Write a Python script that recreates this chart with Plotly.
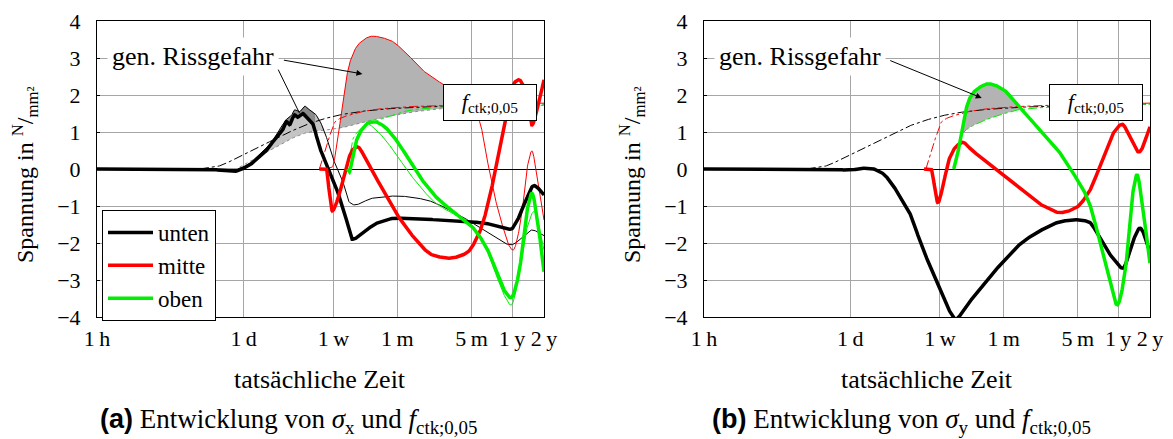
import numpy as np
import plotly.graph_objects as go

SERIF = "Liberation Serif"
SANS = "Liberation Sans"
W, H = 1173, 439

# ---- time axis (hours; 1 m = 4 weeks, 1 y = 12 m) ----
tick_hours = [1, 24, 168, 672, 3360, 8064, 16128]
tick_text = ["1\u2009h", "1\u2009d", "1\u2009w", "1\u2009m", "5\u2009m", "1\u2009y", "2\u2009y"]
t_end = 16128

# ---- (a) sigma_x ----
t_sx_unten = [1, 9.3, 14.3, 18.9, 25.6, 33.9, 39.5, 49.0, 55.8, 60.8, 64.9, 72.3, 77.1, 85.9, 93.7,
              106.8, 124, 154, 191, 238, 253, 315, 426, 656, 1151, 2400, 4210, 6490, 7886, 8600,
              9370, 10910, 12970, 16128]
sx_unten = [0, 0, -0.03, -0.07, 0.06, 0.33, 0.51, 0.87, 1.05, 1.28, 1.2, 1.46, 1.4, 1.5, 1.4,
            1.23, 0.6, -0.03, -0.75, -1.65, -1.9, -1.74, -1.47, -1.33, -1.35, -1.42, -1.45, -1.59, -1.63, -1.5,
            -1.3, -0.84, -0.45, -0.7]

t_sx_unten_b = [1, 9.3, 14.3, 18.9, 25.6, 33.9, 42.1, 49.0, 55.8, 62.1, 67.8, 72.3, 80.5, 89.8, 100,
                111.5, 124, 144, 164, 191, 204, 238, 265, 391, 656, 1151, 2400, 4898, 7886, 10000,
                12420, 16128]
sx_unten_b = [0, 0, 0, -0.02, 0.1, 0.4, 0.66, 0.92, 1.2, 1.37, 1.45, 1.6, 1.55, 1.7, 1.6,
              1.51, 1.32, 0.87, 0.33, -0.1, -0.3, -0.9, -0.97, -0.79, -0.73, -0.81, -1.2, -1.74, -2.05, -1.86,
              -1.65, -1.8]

t_sx_mitte = [124, 144, 154, 164, 183, 222, 253, 282, 343, 454, 656, 1011, 1429, 2064, 2980, 3948,
              4898, 6084, 7228, 8410, 9370, 10910, 12420, 13830, 16128]
sx_mitte = [0, 0, -0.65, -1.13, -0.85, 0.06, 0.51, 0.6, 0.24, -0.39, -1.2, -1.92, -2.32, -2.41, -2.28, -1.74,
            -0.84, 0.51, 1.59, 2.32, 2.41, 2.05, 1.19, 1.59, 2.41]

t_sx_mitte_b = [144, 164, 179, 204, 238, 295, 391, 564, 815, 1151, 1557, 2560, 3948, 4898, 6084,
                8230, 9790, 11140, 12420, 13530, 16128]
sx_mitte_b = [0, 0.05, 0.55, 1.7, 2.85, 3.4, 3.59, 3.49, 3.13, 2.68, 2.41, 2.0, 1.32, 0.0, -1.2,
              -2.19, -1.38, 0.0, 0.49, 0.0, -1.38]

t_sx_oben = [227, 238, 248, 265, 308, 366, 408, 484, 656, 869, 1151, 1663, 2400, 3394, 4590, 5702,
             6776, 7886, 9370, 10910, 12420, 13830, 16128]
sx_oben = [0, -0.08, 0.2, 0.6, 1.05, 1.26, 1.28, 1.19, 0.78, 0.24, -0.3, -0.84, -1.2, -1.56, -2.1, -2.73,
           -3.27, -3.48, -2.82, -1.29, -0.66, -1.29, -2.78]

t_sx_oben_b = [227, 238, 253, 282, 321, 350, 408, 601, 815, 1079, 1557, 2400, 3178, 4590, 5702,
               6776, 7886, 9370, 11140, 12970, 16128]
sx_oben_b = [0, -0.05, 0.4, 0.9, 1.15, 1.22, 1.1, 0.55, 0.0, -0.45, -0.93, -1.25, -1.43, -2.15, -2.85,
             -3.4, -3.68, -2.9, -1.6, -1.15, -2.19]

# ---- tensile strength f_ctk;0,05 of the three layers ----
t_fctk_unten = [9.3, 12.8, 22.0, 31.8, 45.0, 64.9, 91.7, 124, 191, 295, 564, 1774, 16128]
fctk_unten = [0, 0.05, 0.33, 0.55, 0.78, 1.0, 1.19, 1.32, 1.46, 1.55, 1.63, 1.70, 1.76]

t_fctk_mitte = [124, 138, 154, 175, 238, 391, 700, 1774, 16128]
fctk_mitte = [0, 0.4, 0.87, 1.28, 1.46, 1.6, 1.67, 1.72, 1.78]

t_fctk_oben = [227, 243, 260, 295, 391, 601, 927, 1774, 16128]
fctk_oben = [0, 0.5, 0.85, 1.05, 1.25, 1.45, 1.6, 1.67, 1.76]

# lower boundary of the crack-risk areas in (a)
t_fctk_b = [22.0, 29.2, 42.1, 64.9, 100, 191, 295, 454, 700, 1774, 16128]
fctk_b = [0.05, 0.24, 0.5, 0.8, 1.0, 1.1, 1.25, 1.36, 1.48, 1.63, 1.72]

# ---- (b) sigma_y ----
t_sy_unten = [1, 8.0, 18.9, 24, 31.1, 36.2, 48.0, 55.8, 69.2, 85.9, 114, 154, 191, 238, 295, 417,
              642, 989, 1524, 2350, 3178, 4210, 5575, 6925, 8980, 10670, 12970, 16128]
sy_unten = [0, 0, -0.02, -0.03, 0.02, 0.02, -0.11, -0.3, -0.7, -1.15, -2.1, -3.0, -3.63, -4.05, -3.72, -3.18,
            -2.55, -2.0, -1.65, -1.42, -1.37, -1.42, -1.92, -2.35, -2.68, -2.1, -1.6, -2.25]

t_sy_mitte = [119, 138, 161, 175, 204, 238, 276, 336, 484, 700, 989, 1524, 2300, 3178, 4210, 5575,
              7228, 8790, 10670, 12690, 16128]
sy_mitte = [0, 0, -0.91, -0.6, 0.24, 0.6, 0.72, 0.51, 0.15, -0.21, -0.57, -0.97, -1.18, -1.06, -0.66, 0.15,
            0.96, 1.21, 0.78, 0.46, 1.14]

t_sy_oben = [227, 243, 271, 315, 366, 484, 642, 927, 1429, 2064, 2915, 4210, 5575, 6776, 7886, 9370,
             10670, 12150, 13830, 16128]
sy_oben = [0, 0.3, 1.05, 1.86, 2.13, 2.3, 2.18, 1.7, 1.1, 0.6, -0.03, -0.84, -2.1, -3.08, -3.67, -2.82,
           -1.02, -0.16, -1.1, -2.55]

# arrow targets of the "gen. Rissgefahr" callouts (hours, N/mm²)
arrow_a1 = (315, 2.57)
arrow_a2 = (80.5, 1.51)
arrow_b = (417, 1.92)

BLACK, RED, GREEN = "#000000", "#ff0000", "#00ee00"
FILL, FILL_LIGHT, FILL_DARK = "#b3b3b3", "#c4c4c4", "#8a8a8a"


def pchip(x, y, xn):
    x = np.asarray(x, float)
    y = np.asarray(y, float)
    h = np.diff(x)
    d = np.diff(y) / h
    m = np.zeros_like(y)
    m[0], m[-1] = d[0], d[-1]
    for k in range(1, len(x) - 1):
        if d[k - 1] * d[k] > 0:
            w1 = 2 * h[k] + h[k - 1]
            w2 = h[k] + 2 * h[k - 1]
            m[k] = (w1 + w2) / (w1 / d[k - 1] + w2 / d[k])
    idx = np.clip(np.searchsorted(x, xn) - 1, 0, len(x) - 2)
    hk = h[idx]
    s = (xn - x[idx]) / hk
    h00 = 2 * s**3 - 3 * s**2 + 1
    h10 = s**3 - 2 * s**2 + s
    h01 = -2 * s**3 + 3 * s**2
    h11 = s**3 - s**2
    return h00 * y[idx] + h10 * hk * m[idx] + h01 * y[idx + 1] + h11 * hk * m[idx + 1]


def on_grid(t, v, lo, hi, n=700):
    g = np.linspace(lo, hi, n)
    return g, pchip(np.log10(t), v, g)


def curve(t, v, n=700):
    lt = np.log10(t)
    g, y = on_grid(t, v, lt[0], lt[-1], n)
    return 10**g, y


fig = go.Figure()


def add_line(t, v, color, width, axis, dash="solid", name=None, legend=False):
    x, y = curve(t, v)
    fig.add_trace(go.Scatter(x=x, y=y, mode="lines", name=name, showlegend=legend,
                             line=dict(color=color, width=width, dash=dash),
                             xaxis=axis[0], yaxis=axis[1], hoverinfo="skip"))


def add_fill(g, lower, upper, color, axis):
    fig.add_trace(go.Scatter(x=10**g, y=lower, mode="lines", line=dict(width=0, color=color),
                             showlegend=False, xaxis=axis[0], yaxis=axis[1], hoverinfo="skip"))
    fig.add_trace(go.Scatter(x=10**g, y=upper, mode="lines", line=dict(width=0, color=color),
                             fill="tonexty", fillcolor=color, showlegend=False,
                             xaxis=axis[0], yaxis=axis[1], hoverinfo="skip"))


def add_band(lower, upper_list, color, axis):
    tl, vl = lower
    lo_b = max([np.log10(tl[0])] + [np.log10(u[0][0]) for u in upper_list])
    hi_b = min([np.log10(tl[-1])] + [np.log10(u[0][-1]) for u in upper_list])
    g, ylo = on_grid(tl, vl, lo_b, hi_b)
    ups = [on_grid(tu, vu, lo_b, hi_b)[1] for tu, vu in upper_list]
    add_fill(g, ylo, np.maximum.reduce([ylo] + ups), color, axis)


A = ("x", "y")
B = ("x2", "y2")

# ---------- panel (a) ----------
add_band((t_fctk_b, fctk_b), [(t_sx_unten_b, sx_unten_b), (t_sx_unten, sx_unten)], FILL_LIGHT, A)

# darker band between the two "unten" curves where both exceed the strength
g0, g1 = np.log10(t_fctk_b[0]), np.log10(400)
g_, thin_ = on_grid(t_sx_unten_b, sx_unten_b, g0, g1)
_, thick_ = on_grid(t_sx_unten, sx_unten, g0, g1)
_, lim_ = on_grid(t_fctk_b, fctk_b, g0, g1)
add_fill(g_, thick_, np.where((thin_ > thick_) & (thick_ > lim_), thin_, thick_), FILL_DARK, A)

add_band((t_fctk_b, fctk_b), [(t_sx_mitte_b, sx_mitte_b)], FILL, A)

add_line(t_fctk_b, fctk_b, "#8c8c8c", 1, A, dash="dot")
add_line(t_fctk_unten, fctk_unten, BLACK, 1, A, dash="dashdot")
add_line(t_fctk_mitte, fctk_mitte, RED, 1, A, dash="dashdot")
add_line(t_fctk_oben, fctk_oben, GREEN, 1, A, dash="dashdot")

add_line(t_sx_unten_b, sx_unten_b, BLACK, 1, A)
add_line(t_sx_mitte_b, sx_mitte_b, RED, 1, A)
add_line(t_sx_oben_b, sx_oben_b, GREEN, 1, A)

add_line(t_sx_unten, sx_unten, BLACK, 3.5, A, name="unten", legend=True)
add_line(t_sx_mitte, sx_mitte, RED, 3.5, A, name="mitte", legend=True)
add_line(t_sx_oben, sx_oben, GREEN, 3.5, A, name="oben", legend=True)

# ---------- panel (b) ----------
add_band((t_fctk_oben, fctk_oben), [(t_sy_oben, sy_oben)], FILL, B)

add_line(t_fctk_unten, fctk_unten, BLACK, 1, B, dash="dashdot")
add_line(t_fctk_mitte, fctk_mitte, RED, 1, B, dash="dashdot")
add_line(t_fctk_oben, fctk_oben, GREEN, 1, B, dash="dashdot")

add_line(t_sy_unten, sy_unten, BLACK, 3.5, B)
add_line(t_sy_mitte, sy_mitte, RED, 3.5, B)
add_line(t_sy_oben, sy_oben, GREEN, 3.5, B)

# ---------- axes ----------
ydom = [1 - 317 / H, 1 - 21 / H]
TICK = dict(family=SERIF, size=22, color="black")
xcommon = dict(type="log", range=[0, np.log10(t_end)], tickvals=tick_hours, ticktext=tick_text,
               showgrid=True, gridcolor="#a6a6a6", gridwidth=1, showline=True, linecolor="black",
               linewidth=1, mirror=True, ticks="", zeroline=False, automargin=False,
               ticklabelstandoff=2, tickfont=TICK)
ycommon = dict(range=[-4, 4], dtick=1, showgrid=True, gridcolor="#a6a6a6", gridwidth=1,
               showline=True, linecolor="black", linewidth=1, mirror=True, automargin=False,
               zeroline=True, zerolinecolor="black", zerolinewidth=1,
               ticks="inside", ticklen=3, tickcolor="black", ticklabelstandoff=11,
               tickfont=TICK, domain=ydom)

fig.update_layout(
    width=W, height=H, margin=dict(l=0, r=0, t=0, b=0, autoexpand=False),
    paper_bgcolor="white", plot_bgcolor="white",
    xaxis=dict(xcommon, domain=[97 / W, 544 / W], anchor="y"),
    yaxis=dict(ycommon, anchor="x"),
    xaxis2=dict(xcommon, domain=[704 / W, 1150 / W], anchor="y2"),
    yaxis2=dict(ycommon, anchor="x2"),
    legend=dict(x=102 / W, y=1 - 210 / H, xanchor="left", yanchor="top", traceorder="normal",
                bordercolor="black", borderwidth=1, bgcolor="white",
                font=dict(family=SERIF, size=23, color="black"), itemwidth=45, tracegroupgap=0,
                entrywidth=125, entrywidthmode="pixels"),
    showlegend=True,
)


def px(x):
    return x / W


def py(y):
    return 1 - y / H


def label(text, x, y, size, **kw):
    return dict(text=text, x=px(x), y=py(y), xref="paper", yref="paper", xanchor="center",
                yanchor="middle", showarrow=False, font=dict(family=SERIF, size=size, color="black"), **kw)


ann = []
for cx in (320, 927):
    ann.append(label("tatsächliche Zeit", cx, 379, 26))
for cx in (25, 632):
    ann.append(label("Spannung in <sup>N</sup>/<sub>mm²</sub>", cx, 175, 24, textangle=-90))
for cx, lab, sig in ((288, "a", "x"), (902, "b", "y")):
    ann.append(label(f"<span style=\"font-family:{SANS};font-weight:bold\">({lab})</span> "
                     f"Entwicklung von <i>σ</i><sub>{sig}</sub> und <i>f</i><sub>ctk;0,05</sub>",
                     cx, 421, 27))
for cx in (490, 1096):
    ann.append(label("<i>f</i><sub>ctk;0,05</sub>", cx, 102.5, 22, bgcolor="white", bordercolor="black",
                     borderwidth=1, borderpad=2, width=88, height=31))
for cx in (193, 800):
    ann.append(label("gen. Rissgefahr", cx, 57, 26, bgcolor="white", borderpad=4))
ann.append(dict(x=np.log10(arrow_a1[0]), y=arrow_a1[1], xref="x", yref="y", text="",
                showarrow=True, arrowhead=2, arrowsize=1.2, arrowwidth=1, arrowcolor="black",
                ax=-80, ay=-14))
ann.append(dict(x=np.log10(arrow_a2[0]), y=arrow_a2[1], xref="x", yref="y", text="",
                showarrow=True, arrowhead=0, arrowwidth=1, arrowcolor="black", ax=-22, ay=-45))
ann.append(dict(x=np.log10(arrow_b[0]), y=arrow_b[1], xref="x2", yref="y2", text="",
                showarrow=True, arrowhead=2, arrowsize=1.2, arrowwidth=1, arrowcolor="black",
                ax=-93, ay=-38))
fig.update_layout(annotations=ann)

fig.write_html("out.html")
